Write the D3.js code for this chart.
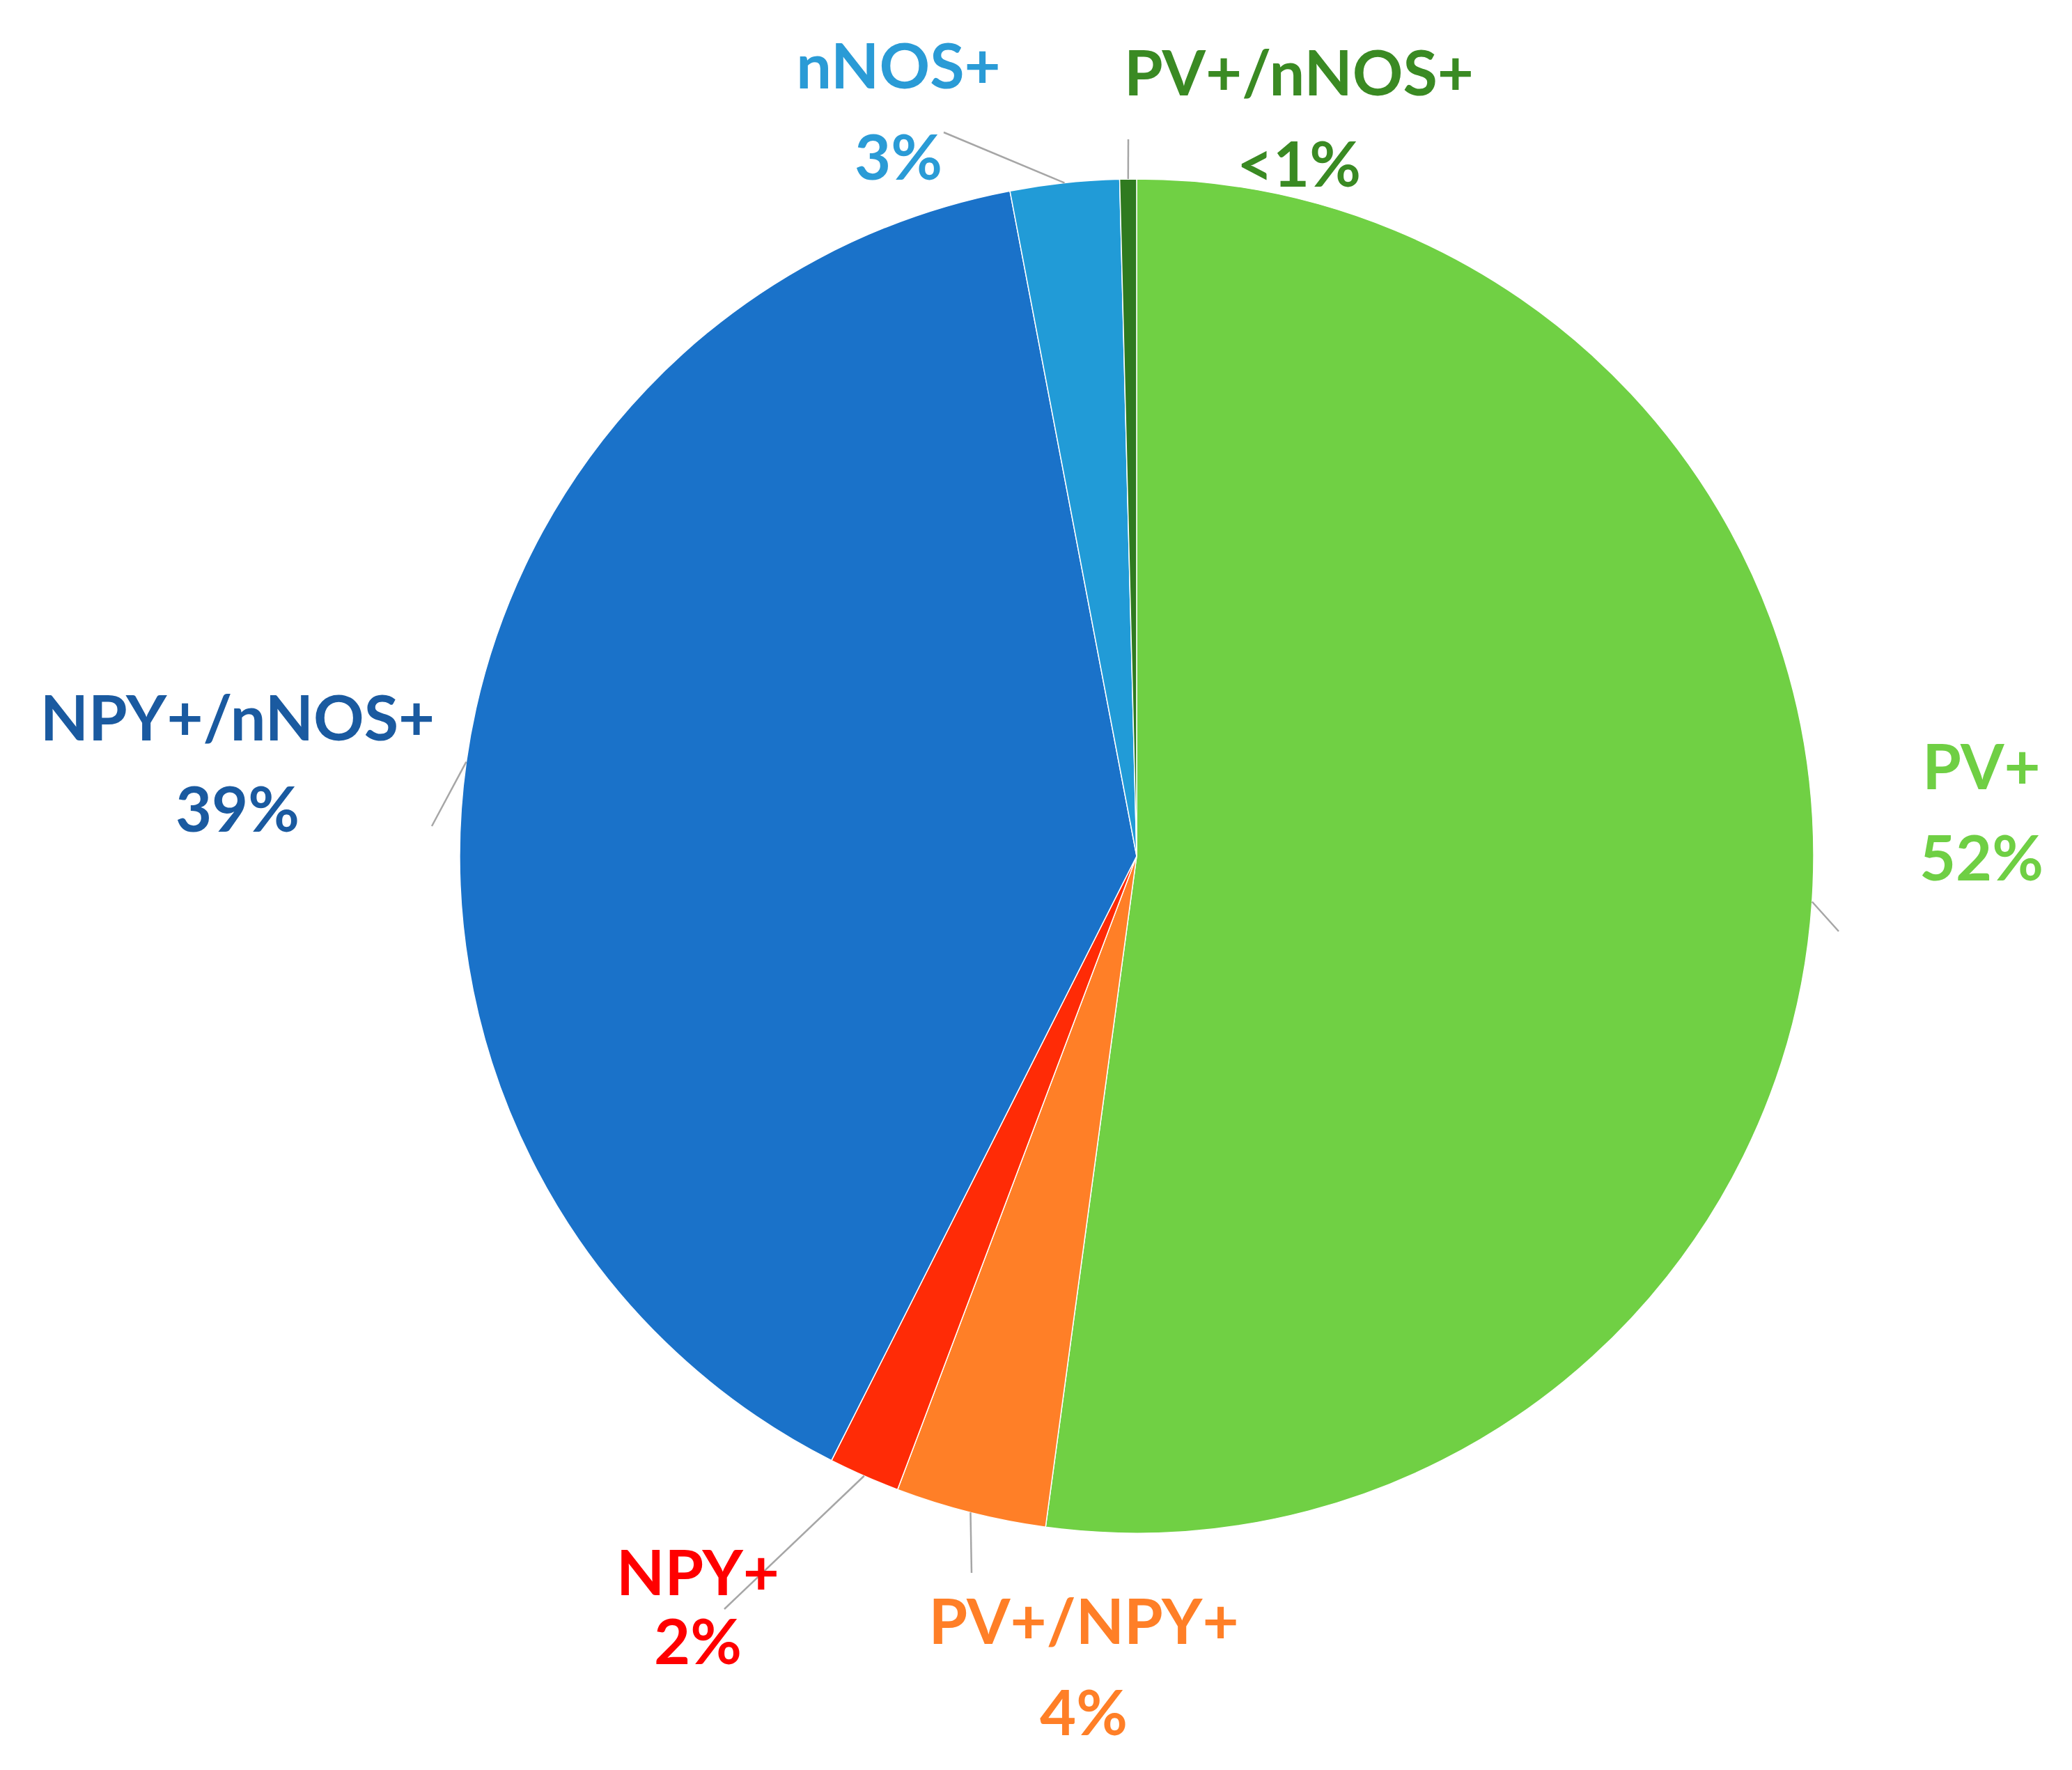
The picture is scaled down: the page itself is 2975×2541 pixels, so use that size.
<!DOCTYPE html>
<html>
<head>
<meta charset="utf-8">
<script src="https://cdn.jsdelivr.net/npm/d3@7"></script>
<style>
  body { margin: 0; background: #fff; }
  text { font-family: Lato, "Open Sans", sans-serif; font-weight: bold; }
</style>
</head>
<body>
<svg id="chart"></svg>
<script>
// Data, clockwise from 12 o'clock
const categories = ["PV+", "PV+/NPY+", "NPY+", "NPY+/nNOS+", "nNOS+", "PV+/nNOS+"];
const values = [52.2, 3.6, 1.7, 39.6, 2.6, 0.4];
const pctLabels = ["52%", "4%", "2%", "39%", "3%", "<1%"];
const sliceColors = ["#70D044", "#FF7F27", "#FF2B06", "#1A72C9", "#219BD7", "#2F7A1F"];
const textColors = ["#6FCF44", "#FF7F27", "#FF0000", "#1A5AA0", "#2A9BD6", "#3A8A23"];

const width = 2975, height = 2541;
const cx = 1632, cy = 1229, radius = 972;

// label anchor (center of first line) and leader end point, in page coords
const labelPos = [
  { x: 2845, y: 1110, lx: 2640, ly: 1337 },
  { x: 1556, y: 2337, lx: 1395, ly: 2258 },
  { x: 1002, y: 2267, lx: 1040, ly: 2310 },
  { x: 341, y: 1040, lx: 620, ly: 1186 },
  { x: 1290, y: 104, lx: 1355, ly: 190 },
  { x: 1865, y: 114, lx: 1620, ly: 200 }
];

const svg = d3.select("#chart")
  .attr("width", width)
  .attr("height", height);

const pie = d3.pie().sort(null).value(d => d)(values);
const arc = d3.arc().innerRadius(0).outerRadius(radius);

const g = svg.append("g").attr("transform", `translate(${cx},${cy})`);

g.selectAll("path")
  .data(pie)
  .enter()
  .append("path")
  .attr("d", arc)
  .attr("fill", (d, i) => sliceColors[i])
  .attr("stroke", "#fff")
  .attr("stroke-width", 1.5);

// leader lines: from arc edge at mid-angle to label
pie.forEach((d, i) => {
  const a = (d.startAngle + d.endAngle) / 2;
  const ex = cx + Math.sin(a) * radius;
  const ey = cy - Math.cos(a) * radius;
  const p = labelPos[i];
  svg.append("polyline")
    .attr("points", `${ex},${ey} ${p.lx},${p.ly}`)
    .attr("fill", "none")
    .attr("stroke", "#a6a6a6")
    .attr("stroke-width", 2.5);
});

// labels
categories.forEach((c, i) => {
  const p = labelPos[i];
  const t = svg.append("text")
    .attr("x", p.x)
    .attr("y", p.y)
    .attr("text-anchor", "middle")
    .attr("dominant-baseline", "middle")
    .attr("fill", textColors[i])
    .style("font-size", "90px");
  t.append("tspan").attr("x", p.x).text(c);
  t.append("tspan").attr("x", p.x).attr("dy", i === 2 ? "1.1em" : "1.45em").text(pctLabels[i]);
});
</script>
</body>
</html>
